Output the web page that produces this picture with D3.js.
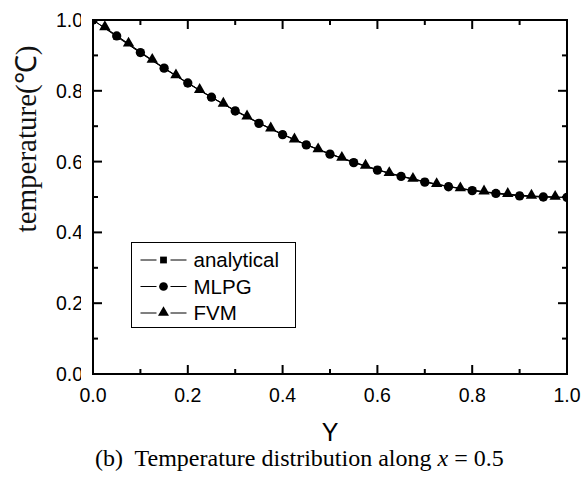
<!DOCTYPE html>
<html>
<head>
<meta charset="utf-8">
<script src="https://cdn.jsdelivr.net/npm/d3@7"></script>
<style>
  body { margin: 0; background: #fff; }
  svg { display: block; }
</style>
</head>
<body>
<div id="chart"></div>
<script>
// data
let yGrid = [0, 0.05, 0.1, 0.15, 0.2, 0.25, 0.3, 0.35, 0.4, 0.45, 0.5,
             0.55, 0.6, 0.65, 0.7, 0.75, 0.8, 0.85, 0.9, 0.95, 1.0];
let analytical = [1.000, 0.953, 0.907, 0.863, 0.821, 0.781, 0.744, 0.709, 0.677, 0.648, 0.622,
                  0.598, 0.577, 0.559, 0.543, 0.530, 0.519, 0.510, 0.504, 0.500, 0.499];
let mlpg = [1.000, 0.955, 0.908, 0.864, 0.822, 0.782, 0.743, 0.708, 0.676, 0.647, 0.621,
            0.597, 0.576, 0.558, 0.542, 0.529, 0.518, 0.510, 0.503, 0.500, 0.499];
let fvmGrid = [0.025, 0.075, 0.125, 0.175, 0.225, 0.275, 0.325, 0.375, 0.425, 0.475,
               0.525, 0.575, 0.625, 0.675, 0.725, 0.775, 0.825, 0.875, 0.925, 0.975];
let fvm = [0.979, 0.933, 0.887, 0.843, 0.802, 0.763, 0.727, 0.693, 0.662, 0.634,
           0.610, 0.588, 0.567, 0.551, 0.536, 0.524, 0.515, 0.508, 0.503, 0.500];

let xTicks = [0, 0.2, 0.4, 0.6, 0.8, 1.0];
let yTicks = [0, 0.2, 0.4, 0.6, 0.8, 1.0];
let minorTicks = [0.1, 0.3, 0.5, 0.7, 0.9];
let legendNames = ["analytical", "MLPG", "FVM"];

let W = 584, H = 487;
let margin = {top: 20, right: 17, bottom: 113, left: 93};
let plotW = W - margin.left - margin.right;
let plotH = H - margin.top - margin.bottom;

let svg = d3.select("#chart").append("svg")
    .attr("width", W)
    .attr("height", H);

let g = svg.append("g")
    .attr("transform", "translate(" + margin.left + "," + margin.top + ")");

let xScale = d3.scaleLinear().domain([0, 1]).range([0, plotW]);
let yScale = d3.scaleLinear().domain([0, 1]).range([plotH, 0]);

let fontSans = "'Liberation Sans', Arial, sans-serif";
let fontSerif = "'Liberation Serif', 'Times New Roman', serif";

// tick labels
g.selectAll(".xlab").data(xTicks).enter().append("text")
    .attr("x", d => xScale(d))
    .attr("y", plotH + 28)
    .attr("text-anchor", "middle")
    .style("font-family", fontSans)
    .style("font-size", "19.5px")
    .text(d => d.toFixed(1));

g.selectAll(".ylab").data(yTicks).enter().append("text")
    .attr("x", -10)
    .attr("y", d => yScale(d))
    .attr("dy", "0.36em")
    .attr("text-anchor", "end")
    .style("font-family", fontSans)
    .style("font-size", "19.5px")
    .text(d => d.toFixed(1));

// series
let plot = g.append("g");

let line = d3.line().x(d => xScale(d[0])).y(d => yScale(d[1]));
let aPts = yGrid.map((v, i) => [v, analytical[i]]);
let mPts = yGrid.map((v, i) => [v, mlpg[i]]);
let fPts = fvmGrid.map((v, i) => [v, fvm[i]]);

[aPts, mPts, fPts].forEach(function (pts) {
    plot.append("path")
        .datum(pts)
        .attr("fill", "none")
        .attr("stroke", "#000")
        .attr("stroke-width", 1)
        .attr("d", line);
});

let sqSym = d3.symbol().type(d3.symbolSquare).size(42);
let ciSym = d3.symbol().type(d3.symbolCircle).size(68);
let trSym = d3.symbol().type(d3.symbolTriangle).size(56);

plot.selectAll(".sq").data(aPts).enter().append("path")
    .attr("d", sqSym)
    .attr("transform", d => "translate(" + xScale(d[0]) + "," + yScale(d[1]) + ")")
    .attr("fill", "#000");
plot.selectAll(".ci").data(mPts).enter().append("path")
    .attr("d", ciSym)
    .attr("transform", d => "translate(" + xScale(d[0]) + "," + yScale(d[1]) + ")")
    .attr("fill", "#000");
plot.selectAll(".tr").data(fPts).enter().append("path")
    .attr("d", trSym)
    .attr("transform", d => "translate(" + xScale(d[0]) + "," + (yScale(d[1]) - 0.5) + ")")
    .attr("fill", "#000");

// mask marker parts that spill outside the plot (the reference cuts them at the frame)
let maskG = g.append("g").attr("fill", "#fff");
maskG.append("rect").attr("x", -12).attr("y", -12).attr("width", 11).attr("height", plotH + 24);
maskG.append("rect").attr("x", plotW + 1).attr("y", -12).attr("width", 11).attr("height", plotH + 24);
maskG.append("rect").attr("x", -12).attr("y", -12).attr("width", plotW + 24).attr("height", 11);

// legend
let leg = g.append("g").attr("transform", "translate(" + (131.5 - margin.left) + "," + (242.5 - margin.top) + ")");
leg.append("rect")
    .attr("width", 164)
    .attr("height", 85)
    .attr("fill", "#fff")
    .attr("stroke", "#000")
    .attr("stroke-width", 1);

let legSyms = [
    d3.symbol().type(d3.symbolSquare).size(46),
    d3.symbol().type(d3.symbolCircle).size(60),
    d3.symbol().type(d3.symbolTriangle).size(52)
];
legendNames.forEach(function (name, i) {
    let cy = 17.5 + i * 26.5;
    leg.append("line")
        .attr("x1", 9).attr("x2", 25)
        .attr("y1", cy).attr("y2", cy)
        .attr("stroke", "#000").attr("stroke-width", 1);
    leg.append("line")
        .attr("x1", 39).attr("x2", 55)
        .attr("y1", cy).attr("y2", cy)
        .attr("stroke", "#000").attr("stroke-width", 1);
    leg.append("path")
        .attr("d", legSyms[i])
        .attr("transform", "translate(32," + (i === 2 ? cy - 0.5 : cy) + ")")
        .attr("fill", "#000");
    leg.append("text")
        .attr("x", 62)
        .attr("y", cy)
        .attr("dy", "0.36em")
        .style("font-family", fontSans)
        .style("font-size", "20.5px")
        .text(name);
});

// frame and inward ticks as filled rects (2px thick; major 9px, minor 5px)
let axG = g.append("g").attr("fill", "#000");
axG.append("rect").attr("x", -1).attr("y", -1).attr("width", plotW + 2).attr("height", 2);
axG.append("rect").attr("x", -1).attr("y", plotH - 1).attr("width", plotW + 2).attr("height", 2);
axG.append("rect").attr("x", -1).attr("y", -1).attr("width", 2).attr("height", plotH + 2);
axG.append("rect").attr("x", plotW - 1).attr("y", -1).attr("width", 2).attr("height", plotH + 2);

function xTickRects(vals, len) {
    axG.selectAll(null).data(vals).enter().append("rect")
        .attr("x", d => xScale(d) - 1).attr("y", plotH - len)
        .attr("width", 2).attr("height", len);
    axG.selectAll(null).data(vals).enter().append("rect")
        .attr("x", d => xScale(d) - 1).attr("y", 0)
        .attr("width", 2).attr("height", len);
}
function yTickRects(vals, len) {
    axG.selectAll(null).data(vals).enter().append("rect")
        .attr("x", 0).attr("y", d => yScale(d) - 1)
        .attr("width", len).attr("height", 2);
    axG.selectAll(null).data(vals).enter().append("rect")
        .attr("x", plotW - len).attr("y", d => yScale(d) - 1)
        .attr("width", len).attr("height", 2);
}
xTickRects(xTicks, 9);
xTickRects(minorTicks, 5);
yTickRects(yTicks, 9);
yTickRects(minorTicks, 5);

// axis titles
svg.append("text")
    .attr("x", margin.left + plotW / 2)
    .attr("y", 441)
    .attr("text-anchor", "middle")
    .style("font-family", fontSans)
    .style("font-size", "25px")
    .text("Y");

svg.append("text")
    .attr("transform", "translate(36,139) rotate(-90)")
    .attr("text-anchor", "middle")
    .style("font-family", fontSerif)
    .style("font-size", "29px")
    .style("fill", "#111")
    .text("temperature(℃)");

// caption
let cap = svg.append("text")
    .attr("x", 95)
    .attr("y", 466)
    .style("font-family", fontSerif)
    .style("font-size", "24px")
    .attr("xml:space", "preserve");
cap.append("tspan").text("(b)  Temperature distribution along ");
cap.append("tspan").style("font-style", "italic").text("x");
cap.append("tspan").text(" = 0.5");
</script>
</body>
</html>
